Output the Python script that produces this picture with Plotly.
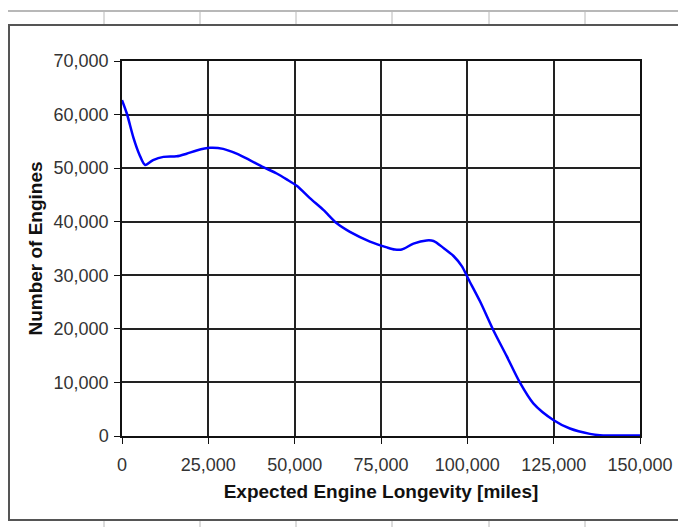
import plotly.graph_objects as go

# Engine longevity distribution
miles = [0, 1400, 3300, 5000, 6700, 9000, 12000, 15800, 18700, 21600, 25500,
         29300, 33200, 37000, 40900, 44800, 47700, 50600, 54400, 58300, 62200,
         66000, 71800, 76700, 79000, 81000, 84400, 88200, 90200, 93100, 96000,
         98400, 100300, 103700, 107500, 111400, 115200, 119100, 124900, 129700,
         135500, 138400, 150000]
engines = [62700, 60200, 55700, 52600, 50600, 51500, 52100, 52200, 52700, 53300,
           53800, 53600, 52700, 51500, 50200, 49000, 47900, 46700, 44400, 42200,
           39700, 38100, 36300, 35200, 34800, 34800, 35900, 36500, 36400, 35100,
           33600, 31700, 29300, 25100, 19800, 14900, 10000, 6100, 3000, 1400,
           400, 150, 100]

x_ticks = [0, 25000, 50000, 75000, 100000, 125000, 150000]
y_ticks = [0, 10000, 20000, 30000, 40000, 50000, 60000, 70000]

# the page body has an 8px margin, so the figure is drawn 8px smaller
OFF = 8
W, H = 686 - OFF, 527 - OFF
L, R, T, B = 122 - OFF, 640 - OFF, 61 - OFF, 436 - OFF   # plot area in pixels


def px(x):
    return (x - OFF - L) / (R - L)


def py(y):
    return (B - (y - OFF)) / (B - T)


fig = go.Figure()
fig.add_trace(go.Scatter(
    x=miles,
    y=engines,
    mode='lines',
    line=dict(color='#0000ff', width=2.5, shape='spline', smoothing=0.8),
    showlegend=False,
    cliponaxis=False,
))

# spreadsheet background and chart frame
shapes = []
grey = '#b8b8b8'


def seg(x0, y0, x1, y1, color=grey, width=1):
    shapes.append(dict(type='line', xref='paper', yref='paper',
                       x0=px(x0), x1=px(x1), y0=py(y0), y1=py(y1),
                       line=dict(color=color, width=width), layer='below'))


seg(0, 11, 686, 11, width=2)
for cx in [104, 200, 296, 392, 489, 585, 682]:
    seg(cx, 11, cx, 25)
    seg(cx, 520, cx, 527)
for ry in range(39, 520, 20):
    seg(0, ry, 8, ry)
shapes.append(dict(type='rect', xref='paper', yref='paper',
                   x0=px(9), x1=px(685), y0=py(25), y1=py(520),
                   line=dict(color='#555555', width=2), fillcolor='white',
                   layer='below'))

fig.update_layout(
    width=W, height=H,
    margin=dict(l=L, r=W - R, t=T, b=H - B),
    paper_bgcolor='white',
    plot_bgcolor='white',
    font=dict(family='Liberation Sans, Arial, sans-serif', size=18, color='#333333'),
    shapes=shapes,
    xaxis=dict(
        range=[0, 150000], tickvals=x_ticks, tickformat=',d',
        showgrid=True, gridcolor='#222222', gridwidth=1.5,
        showline=True, linecolor='#111111', linewidth=1.5, mirror=True,
        ticks='outside', ticklen=6, tickcolor='#111111',
        ticklabelstandoff=6, zeroline=False,
        title=dict(text='<b>Expected Engine Longevity [miles]</b>',
                   font=dict(size=19, color='#111111'), standoff=10),
    ),
    yaxis=dict(
        range=[0, 70000], tickvals=y_ticks, tickformat=',d',
        showgrid=True, gridcolor='#222222', gridwidth=1.5,
        showline=True, linecolor='#111111', linewidth=1.5, mirror=True,
        ticks='outside', ticklen=6, tickcolor='#111111',
        ticklabelstandoff=2, zeroline=False,
        title=dict(text='<b>Number of Engines</b>',
                   font=dict(size=19, color='#111111'), standoff=6),
    ),
)

fig.write_html("out.html")
